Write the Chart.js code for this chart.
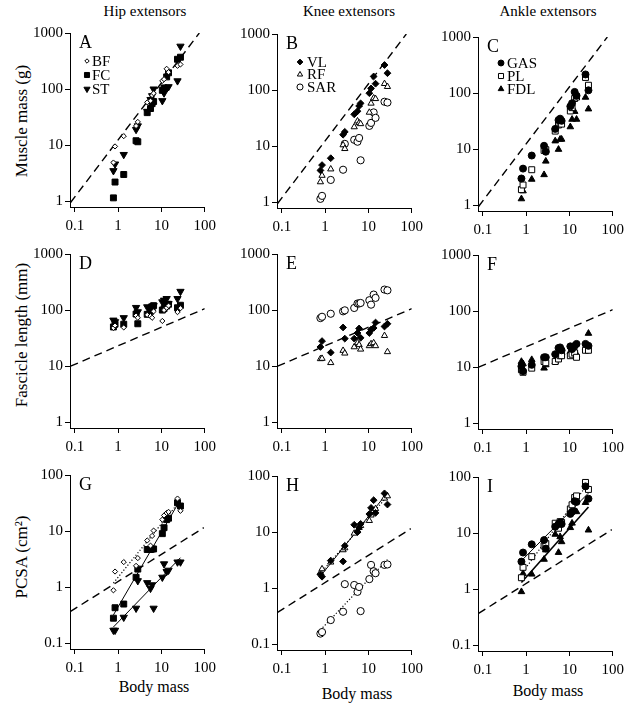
<!DOCTYPE html>
<html>
<head>
<meta charset="utf-8">
<script src="https://cdn.jsdelivr.net/npm/chart.js@4.4.1/dist/chart.umd.min.js"></script>
<style>
  html, body { margin: 0; padding: 0; background: #fff; overflow: hidden; }
  #page { position: relative; width: 629px; height: 707px; font-family: "Liberation Serif", "Times New Roman", serif; color: #000; }
  #page canvas { position: absolute; }
  .lbl { position: absolute; white-space: nowrap; line-height: 1; transform: translate(-50%, -50%); }
  .rot { transform: translate(-50%, -50%) rotate(-90deg); }
</style>
</head>
<body>
<div id="page">
  <div class="lbl" style="left:145px; top:11px; font-size:15px">Hip extensors</div>
  <div class="lbl" style="left:349px; top:11px; font-size:15px">Knee extensors</div>
  <div class="lbl" style="left:548px; top:11px; font-size:15px">Ankle extensors</div>
  <div class="lbl rot" style="left:21px; top:121px; font-size:17px">Muscle mass (g)</div>
  <div class="lbl rot" style="left:21px; top:335px; font-size:17px">Fascicle length (mm)</div>
  <div class="lbl rot" style="left:21px; top:557px; font-size:17px">PCSA (cm²)</div>
  <div class="lbl" style="left:154px; top:687px; font-size:16px">Body mass</div>
  <div class="lbl" style="left:357px; top:694px; font-size:16px">Body mass</div>
  <div class="lbl" style="left:548px; top:691px; font-size:16px">Body mass</div>
</div>
<script>
// body mass of each specimen, shared x values for every panel
const bodyMass = [0.78, 0.85, 1.35, 2.6, 2.85, 4.7, 5.6, 6.1, 6.6, 10.5, 11.5, 13.2, 14.6, 23.5, 27.5];

// muscle mass (g)
const massBF  = [4.9, 9.5, 14.5, 22, 26, 58, 62, 78, 84, 140, 150, 230, 200, 260, 275];
const massFC  = [1.15, 2.2, 3.0, 12, 11.5, 38, 45, 55, 60, 95, 105, 165, 195, 340, 370];
const massST  = [3.5, 4.6, 6.8, 19, 22, 40, 65, 76, 100, 62, 85, 105, 110, 140, 580];
const massVL  = [3.7, 4.6, 6.1, 16, 18, 37, 42, 52, 58, 88, 107, 175, 130, 280, 200];
const massRF  = [2.3, 3.0, 3.9, 10.5, 9, 22, 28, 26, 25, 40, 58, 72, 70, 130, 115];
const massSAR = [1.15, 1.3, 2.5, 3.8, 11, 13, 12, 14, 5.6, 23, 26, 40, 32, 62, 60];
const massGAS = [3.0, 4.5, 7.7, 11.5, 9.0, 23, 33, 35, 32, 58, 66, 105, 90, 215, 112];
const massPL  = [1.9, 2.3, 4.3, 9.5, 9.8, 21, 27, 29, 28, 48, 55, 80, 85, 190, 138];
const massFDL = [1.3, 1.8, 2.9, 3.5, 6.1, 14, 9.9, 15, 15, 25, 34, 47, 34, 84, 52];

// fascicle length (mm)
const fascBF  = [48, 53, 49, 80, 73, 82, 78, 73, 95, 64, 100, 110, 120, 92, 108];
const fascFC  = [50, 56, 56, 85, 57, 84, 95, 113, 120, 100, 106, 118, 127, 110, 122];
const fascST  = [66, 62, 73, 111, 93, 114, 105, 118, 120, 140, 150, 160, 130, 160, 215];
const fascVL  = [22, 28, 17.5, 49, 31, 31, 39, 47, 32, 39, 45, 48, 60, 51, 57];
const fascRF  = [13.5, 13.7, 11.5, 19, 17, 22, 26, 24, 20, 23, 25, 26, 23, 35, 18];
const fascSAR = [72, 76, 86, 95, 99, 109, 131, 131, 134, 150, 125, 189, 165, 232, 225];
const fascGAS = [10.4, 8.5, 11, 15, 15, 17, 22, 22.5, 20, 23.5, 21, 24, 26, 26, 24];
const fascPL  = [9, 8.1, 9.6, 12.6, 12, 12.6, 14, 16, 16, 16, 17, 18, 15, 20, 20];
const fascFDL = [12.6, 11.5, 13.6, 9.6, 11, 12.6, 18, 19, 18, 19, 17, 20, 17, 22, 40];

// PCSA (cm2)
const pcsaBF  = [0.88, 1.9, 2.8, 2.4, 3.3, 6.8, 5.5, 8.2, 10.2, 16, 19, 21, 22, 38, 23];
const pcsaFC  = [0.28, 0.43, 0.5, 1.5, 2.1, 4.7, 4.7, 4.8, 4.8, 9, 11.5, 16, 17, 32, 28];
const pcsaST  = [0.17, 0.17, 0.29, 0.42, 1.3, 1.2, 0.95, 1.1, 0.42, 1.5, 2.6, 1.9, 2.0, 2.8, 2.8];
const pcsaVL  = [1.75, 1.6, 3.1, 3.0, 5.7, 13.5, 10, 12, 14, 21, 27, 37, 22, 49, 31];
const pcsaRF  = [1.9, 2.2, 2.9, 4.8, 5.2, 9.5, 10.5, 12, 13, 16, 20, 24, 26, 40, 44];
const pcsaSAR = [0.155, 0.165, 0.27, 0.38, 1.18, 1.14, 0.86, 1.05, 0.39, 1.45, 2.6, 2.0, 1.85, 2.6, 2.65];
const pcsaGAS = [3.1, 4.5, 6.3, 7.5, 5.3, 13, 14.5, 15.5, 14.5, 22, 24, 37, 36, 68, 41];
const pcsaPL  = [1.6, 2.45, 3.8, 5.9, 6.5, 15, 12.2, 16, 15.5, 27, 32, 43, 46, 80, 60];
const pcsaFDL = [0.9, 1.9, 1.85, 3.4, 5.0, 9.5, 4.5, 8.6, 7.0, 12.5, 15, 25, 24, 35, 11.3];

// dashed isometry lines (end points, data units)
const isoMassX = [0.08, 75],  isoMassY = [0.95, 1000];
const isoFascX = [0.08, 100], isoFascY = [10, 106];
const isoPcsaX = [0.08, 95],  isoPcsaY = [0.37, 11.5];

const xTicks = [0.1, 1, 10, 100];
const yTicksMass = [1, 10, 100, 1000];
const yTicksFasc = [1, 10, 100, 1000];
const yTicksPcsa = [0.1, 1, 10, 100];

const FONT = '"Liberation Serif", "Times New Roman", serif';
const AREA_W = 139, AREA_H = 174, AXIS_W = 50, PAD_T = 14, PAD_R = 12, AXIS_H = 36;
const colLeft = [70, 277, 478];

const markers = {
    BF:  { pointStyle: 'rectRot', radius: 2.6, fill: '#fff', dash: [1.2, 2], width: 1.2 },
    FC:  { pointStyle: 'rect', radius: 4.2, fill: '#000', dash: [], width: 1 },
    ST:  { pointStyle: 'triangle', rotation: 180, radius: 4.2, fill: '#000', dash: [], width: 1 },
    VL:  { pointStyle: 'rectRot', radius: 3.4, fill: '#000', dash: [], width: 1 },
    RF:  { pointStyle: 'triangle', radius: 3.6, fill: '#fff', dash: [1.2, 2], width: 1.2 },
    SAR: { pointStyle: 'circle', radius: 3.6, fill: '#fff', dash: [1.2, 2], width: 1.2 },
    GAS: { pointStyle: 'circle', radius: 3.5, fill: '#000', dash: [], width: 1 },
    PL:  { pointStyle: 'rect', radius: 4.2, fill: '#fff', dash: [1.2, 2], width: 1.2 },
    FDL: { pointStyle: 'triangle', radius: 3.8, fill: '#000', dash: [], width: 1.6 }
};

const rows = [
    { yMin: 0.79, yMax: 1000, yTicks: yTicksMass, isoX: isoMassX, isoY: isoMassY, fit: false },
    { yMin: 0.79, yMax: 1000, yTicks: yTicksFasc, isoX: isoFascX, isoY: isoFascY, fit: false },
    { yMin: 0.079, yMax: 100, yTicks: yTicksPcsa, isoX: isoPcsaX, isoY: isoPcsaY, fit: true }
];

const panels = [
    { letter: 'A', row: 0, col: 0, top: 33, series: [['BF', massBF], ['FC', massFC], ['ST', massST]], legend: [17, 22, 28, 14] },
    { letter: 'B', row: 0, col: 1, top: 34, series: [['VL', massVL], ['RF', massRF], ['SAR', massSAR]], legend: [23, 30, 28, 12.5] },
    { letter: 'C', row: 0, col: 2, top: 37, series: [['GAS', massGAS], ['PL', massPL], ['FDL', massFDL]], legend: [23, 29, 26, 13] },
    { letter: 'D', row: 1, col: 0, top: 254, series: [['BF', fascBF], ['FC', fascFC], ['ST', fascST]] },
    { letter: 'E', row: 1, col: 1, top: 254, series: [['VL', fascVL], ['RF', fascRF], ['SAR', fascSAR]] },
    { letter: 'F', row: 1, col: 2, top: 255, series: [['GAS', fascGAS], ['PL', fascPL], ['FDL', fascFDL]] },
    { letter: 'G', row: 2, col: 0, top: 475, series: [['BF', pcsaBF], ['FC', pcsaFC], ['ST', pcsaST]] },
    { letter: 'H', row: 2, col: 1, top: 476, series: [['VL', pcsaVL], ['RF', pcsaRF], ['SAR', pcsaSAR]] },
    { letter: 'I', row: 2, col: 2, top: 477, series: [['GAS', pcsaGAS], ['PL', pcsaPL], ['FDL', pcsaFDL]] }
];

// least squares line in log-log space, drawn over the range of the data
function fitLine(xs, ys) {
    const lx = xs.map(Math.log10), ly = ys.map(Math.log10);
    const n = lx.length;
    const mx = lx.reduce((a, b) => a + b, 0) / n;
    const my = ly.reduce((a, b) => a + b, 0) / n;
    let sxy = 0, sxx = 0;
    for (let i = 0; i < n; i++) {
        sxy += (lx[i] - mx) * (ly[i] - my);
        sxx += (lx[i] - mx) * (lx[i] - mx);
    }
    const b = sxy / sxx, a = my - b * mx;
    const x0 = Math.min(...xs), x1 = Math.max(...xs);
    return [x0, x1].map(x => ({ x: x, y: Math.pow(10, a + b * Math.log10(x)) }));
}

// panel letter and in-panel legend
function decorPlugin(p) {
    return {
        id: 'decor' + p.letter,
        afterDraw(chart) {
            const ctx = chart.ctx, area = chart.chartArea;
            ctx.save();
            ctx.fillStyle = '#000';
            ctx.textBaseline = 'middle';
            ctx.font = '18px ' + FONT;
            ctx.fillText(p.letter, area.left + 9, area.top + 10);
            if (p.legend) {
                const [mx, tx, y0, dy] = p.legend;
                ctx.font = '15px ' + FONT;
                p.series.forEach(([name], i) => {
                    const m = markers[name];
                    const y = area.top + y0 + i * dy;
                    ctx.fillStyle = m.fill;
                    ctx.strokeStyle = '#000';
                    ctx.lineWidth = 1;
                    Chart.helpers.drawPoint(ctx, { pointStyle: m.pointStyle, rotation: m.rotation || 0, radius: m.radius * 0.85, borderWidth: 1 }, area.left + mx, y);
                    ctx.fillStyle = '#000';
                    ctx.fillText(name, area.left + tx, y + 1);
                });
            }
            ctx.restore();
        }
    };
}

const page = document.getElementById('page');

panels.forEach(p => {
    const r = rows[p.row];
    const canvas = document.createElement('canvas');
    canvas.width = AXIS_W + AREA_W + PAD_R;
    canvas.height = PAD_T + AREA_H + AXIS_H;
    canvas.style.left = (colLeft[p.col] - AXIS_W) + 'px';
    canvas.style.top = (p.top - PAD_T) + 'px';
    canvas.style.width = canvas.width + 'px';
    canvas.style.height = canvas.height + 'px';
    page.appendChild(canvas);

    const datasets = [{
        type: 'line',
        data: r.isoX.map((x, i) => ({ x: x, y: r.isoY[i] })),
        borderColor: '#000',
        borderWidth: 1.4,
        borderDash: [8, 5],
        pointRadius: 0,
        fill: false,
        order: 3
    }];

    p.series.forEach(([name, vals]) => {
        const m = markers[name];
        if (r.fit) {
            datasets.push({
                type: 'line',
                data: fitLine(bodyMass, vals),
                borderColor: '#000',
                borderWidth: m.width,
                borderDash: m.dash,
                pointRadius: 0,
                fill: false,
                order: 2
            });
        }
        datasets.push({
            type: 'scatter',
            label: name,
            data: bodyMass.map((x, i) => ({ x: x, y: vals[i] })),
            pointStyle: m.pointStyle,
            pointRotation: m.rotation || 0,
            pointRadius: m.radius,
            pointBackgroundColor: m.fill,
            pointBorderColor: '#000',
            pointBorderWidth: 1,
            order: 1
        });
    });

    const tickFont = { family: FONT, size: 15 };

    new Chart(canvas, {
        type: 'scatter',
        data: { datasets: datasets },
        options: {
            responsive: false,
            animation: false,
            events: [],
            layout: { padding: { top: PAD_T, right: PAD_R, left: 0, bottom: 0 } },
            plugins: { legend: { display: false }, tooltip: { enabled: false } },
            scales: {
                x: {
                    type: 'logarithmic',
                    min: 0.0776,
                    max: 100,
                    afterBuildTicks: s => { s.ticks = xTicks.map(v => ({ value: v })); },
                    afterFit: s => { s.height = AXIS_H; },
                    ticks: { callback: v => String(v), font: tickFont, color: '#000', padding: 5, autoSkip: false, maxRotation: 0 },
                    grid: { drawOnChartArea: false, drawTicks: true, tickLength: 5, color: '#000' },
                    border: { display: true, color: '#000', width: 1 }
                },
                y: {
                    type: 'logarithmic',
                    min: r.yMin,
                    max: r.yMax,
                    afterBuildTicks: s => { s.ticks = r.yTicks.map(v => ({ value: v })); },
                    afterFit: s => { s.width = AXIS_W; },
                    ticks: { callback: v => String(v), font: tickFont, color: '#000', padding: 2, autoSkip: false },
                    grid: { drawOnChartArea: false, drawTicks: true, tickLength: 5, color: '#000' },
                    border: { display: true, color: '#000', width: 1 }
                }
            }
        },
        plugins: [decorPlugin(p)]
    });
});
</script>
</body>
</html>
